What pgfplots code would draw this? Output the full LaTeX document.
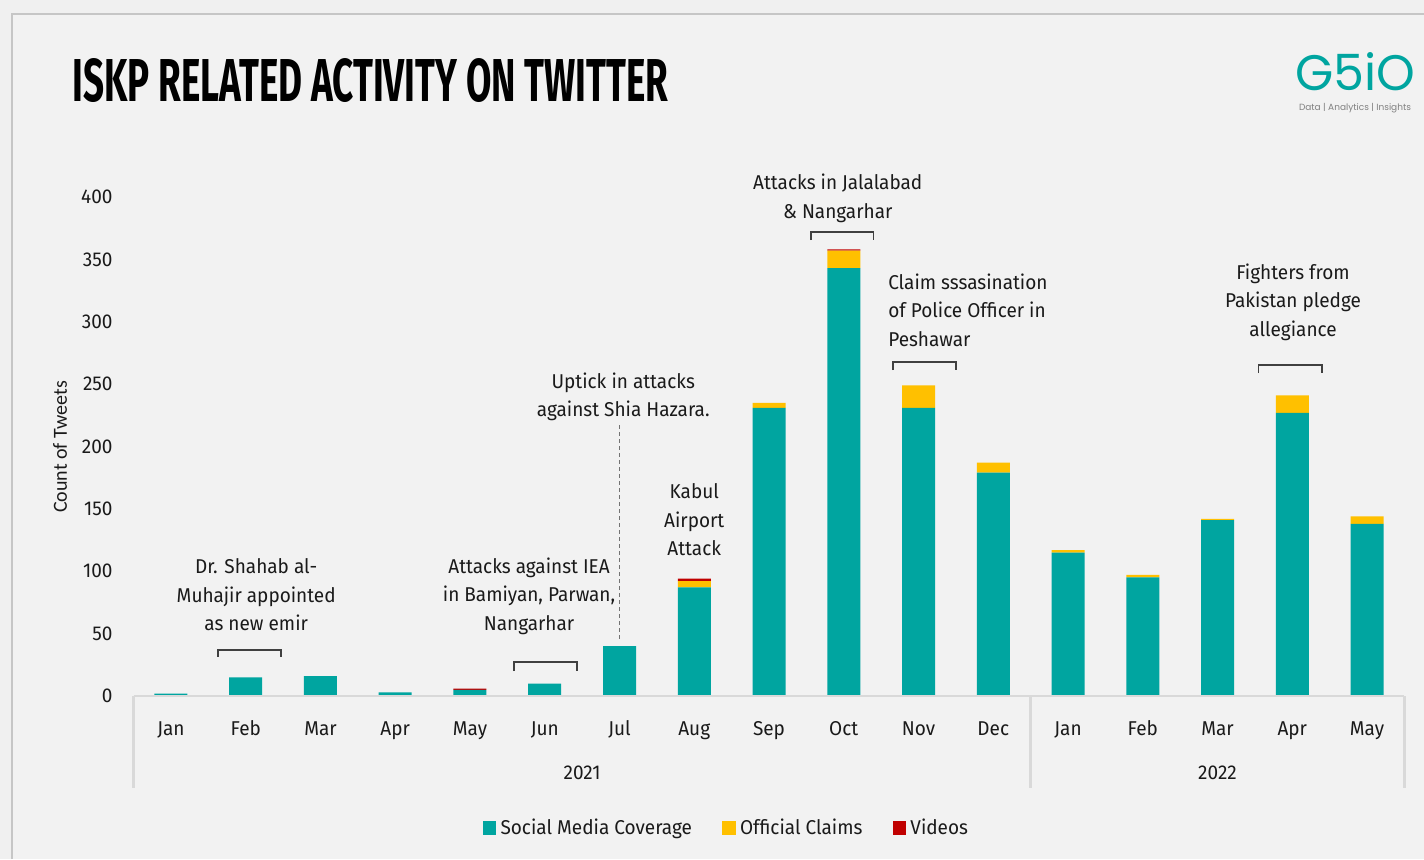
\documentclass[border=0pt]{standalone}
\usepackage{fontspec}
\setmainfont{Fira Sans}[FakeStretch=0.95]
\newfontfamily\calibri{Carlito}
\newfontfamily\logofont{Poppins}
\newfontfamily\titlefont{Fira Sans}[FakeStretch=0.9]
\usepackage{pgfplots}
\pgfplotsset{compat=1.18}
\definecolor{smc}{HTML}{00A5A0}
\definecolor{clm}{HTML}{FFC000}
\definecolor{vid}{HTML}{C00000}
\definecolor{bgc}{HTML}{F2F2F2}
\definecolor{txt}{HTML}{1A1A1A}
\definecolor{axl}{HTML}{D9D9D9}
\newcommand{\annfont}{\fontsize{10}{14.25}\selectfont}
\begin{document}
\begin{tikzpicture}
\begin{scope}[x=0.5pt,y=0.5pt]
\useasboundingbox (0,0) rectangle (1424,859);
\fill[gray!12] (0,0) rectangle (1424,859);
\fill[bgc] (12,0) rectangle (1424,845);
\draw[gray!45, line width=1.2pt] (12,0) -- (12,845) -- (1424,845);
% title
\node[anchor=south west, inner sep=0pt, text=black] at (72,756)
  {\resizebox{298pt}{21.5pt}{\titlefont\bfseries ISKP RELATED ACTIVITY ON TWITTER}};
% logo
\node[anchor=south west, inner sep=0pt, text=smc] at (1295,768)
  {\resizebox{60pt}{19pt}{\logofont G5iO}};
\node[anchor=center, inner sep=0pt, text=gray] at (1355,751)
  {\resizebox{56pt}{!}{\logofont Data | Analytics | Insights}};
% y label
\node[rotate=90, text=txt, inner sep=0pt] at (60,412) {\calibri\fontsize{10}{12}\selectfont Count of Tweets};
\end{scope}
\begin{axis}[
  at={(66.8pt,81.5pt)}, anchor=south west,
  scale only axis, width=635.4pt, height=249.5pt,
  xmin=-0.5, xmax=16.5, ymin=0, ymax=400,
  ybar stacked, bar width=16.5pt,
  axis line style={draw=none}, tick style={draw=none},
  xtick={0,...,16},
  xticklabels={Jan,Feb,Mar,Apr,May,Jun,Jul,Aug,Sep,Oct,Nov,Dec,Jan,Feb,Mar,Apr,May},
  ytick={0,50,...,400},
  yticklabel style={xshift=-7pt},
  xticklabel style={anchor=base, yshift=-19.5pt},
  /pgf/number format/assume math mode=true,
  tick label style={font=\fontsize{10}{12}\selectfont, text=txt},
  clip=false,
  legend columns=-1,
  legend style={at={(0.4675,-0.2645)}, anchor=center, draw=none, fill=none,
    font=\fontsize{10}{12}\selectfont, text=txt,
    /tikz/every even column/.append style={column sep=13pt},
    nodes={inner sep=2.2pt}},
  legsq/.style={legend image code/.code={\fill[#1] (0pt,-3.3pt) rectangle (6.6pt,3.3pt);}},
]
% axis line and category box
\draw[axl, line width=1.2pt] (axis cs:-0.5,0) -- (axis cs:16.5,0);
\draw[axl, line width=1.2pt] (axis cs:-0.5,0) -- ++(0pt,-46pt);
\draw[axl, line width=1.2pt] (axis cs:11.5,0) -- ++(0pt,-46pt);
\draw[axl, line width=1.2pt] (axis cs:16.5,0) -- ++(0pt,-46pt);
\addplot[fill=smc, draw=none, legsq=smc] coordinates {
 (0,2) (1,15) (2,16) (3,3) (4,5) (5,10) (6,40) (7,87) (8,231) (9,343)
 (10,231) (11,179) (12,115) (13,95) (14,141) (15,227) (16,138)};
\addplot[fill=clm, draw=none, legsq=clm] coordinates {
 (0,0) (1,0) (2,0) (3,0) (4,0) (5,0) (6,0) (7,5) (8,4) (9,14)
 (10,18) (11,8) (12,2) (13,2) (14,1) (15,14) (16,6)};
\addplot[fill=vid, draw=none, legsq=vid] coordinates {
 (0,0) (1,0) (2,0) (3,0) (4,1) (5,0) (6,0) (7,2) (8,0) (9,1)
 (10,0) (11,0) (12,0) (13,0) (14,0) (15,0) (16,0)};
\legend{Social Media Coverage, Official Claims, Videos}
% year labels
\node[text=txt, font=\fontsize{10}{12}\selectfont] at (axis cs:5.5,0) [yshift=-38.5pt] {2021};
\node[text=txt, font=\fontsize{10}{12}\selectfont] at (axis cs:14,0) [yshift=-38.5pt] {2022};
% annotations
\tikzset{ann/.style={align=center, text=txt, font=\annfont, inner sep=0pt},
         brk/.style={draw=black!75, line width=0.7pt}}
\node[ann] at (axis cs:1.14,81) {Dr. Shahab al-\\Muhajir appointed\\as new emir};
\draw[brk] (axis cs:0.63,31.3) |- (axis cs:1.47,36.9) -- (axis cs:1.47,31.3);
\node[ann] at (axis cs:4.79,80.2) {Attacks against IEA\\in Bamiyan, Parwan,\\Nangarhar};
\draw[brk] (axis cs:4.59,20) |- (axis cs:5.43,27.3) -- (axis cs:5.43,20);
\node[ann] at (axis cs:6.05,239.7) {Uptick in attacks\\against Shia Hazara.};
\draw[black!55, line width=0.5pt, dash pattern=on 2pt off 1.5pt] (axis cs:6,217) -- (axis cs:6,44.9);
\node[ann] at (axis cs:7,141) {Kabul\\Airport\\Attack};
\node[ann] at (axis cs:8.92,398.8) {Attacks in Jalalabad\\\& Nangarhar};
\draw[brk] (axis cs:8.56,365.5) |- (axis cs:9.40,372) -- (axis cs:9.40,365.5);
\node[ann, align=left, anchor=west] at (axis cs:9.59,309.4) {Claim sssasination\\of Police Officer in\\Peshawar};
\draw[brk] (axis cs:9.66,261.3) |- (axis cs:10.5,267.7) -- (axis cs:10.5,261.3);
\node[ann] at (axis cs:15.01,315.8) {Fighters from\\Pakistan pledge\\allegiance};
\draw[brk] (axis cs:14.55,258.9) |- (axis cs:15.40,265.3) -- (axis cs:15.40,258.9);
\end{axis}
\end{tikzpicture}
\end{document}
